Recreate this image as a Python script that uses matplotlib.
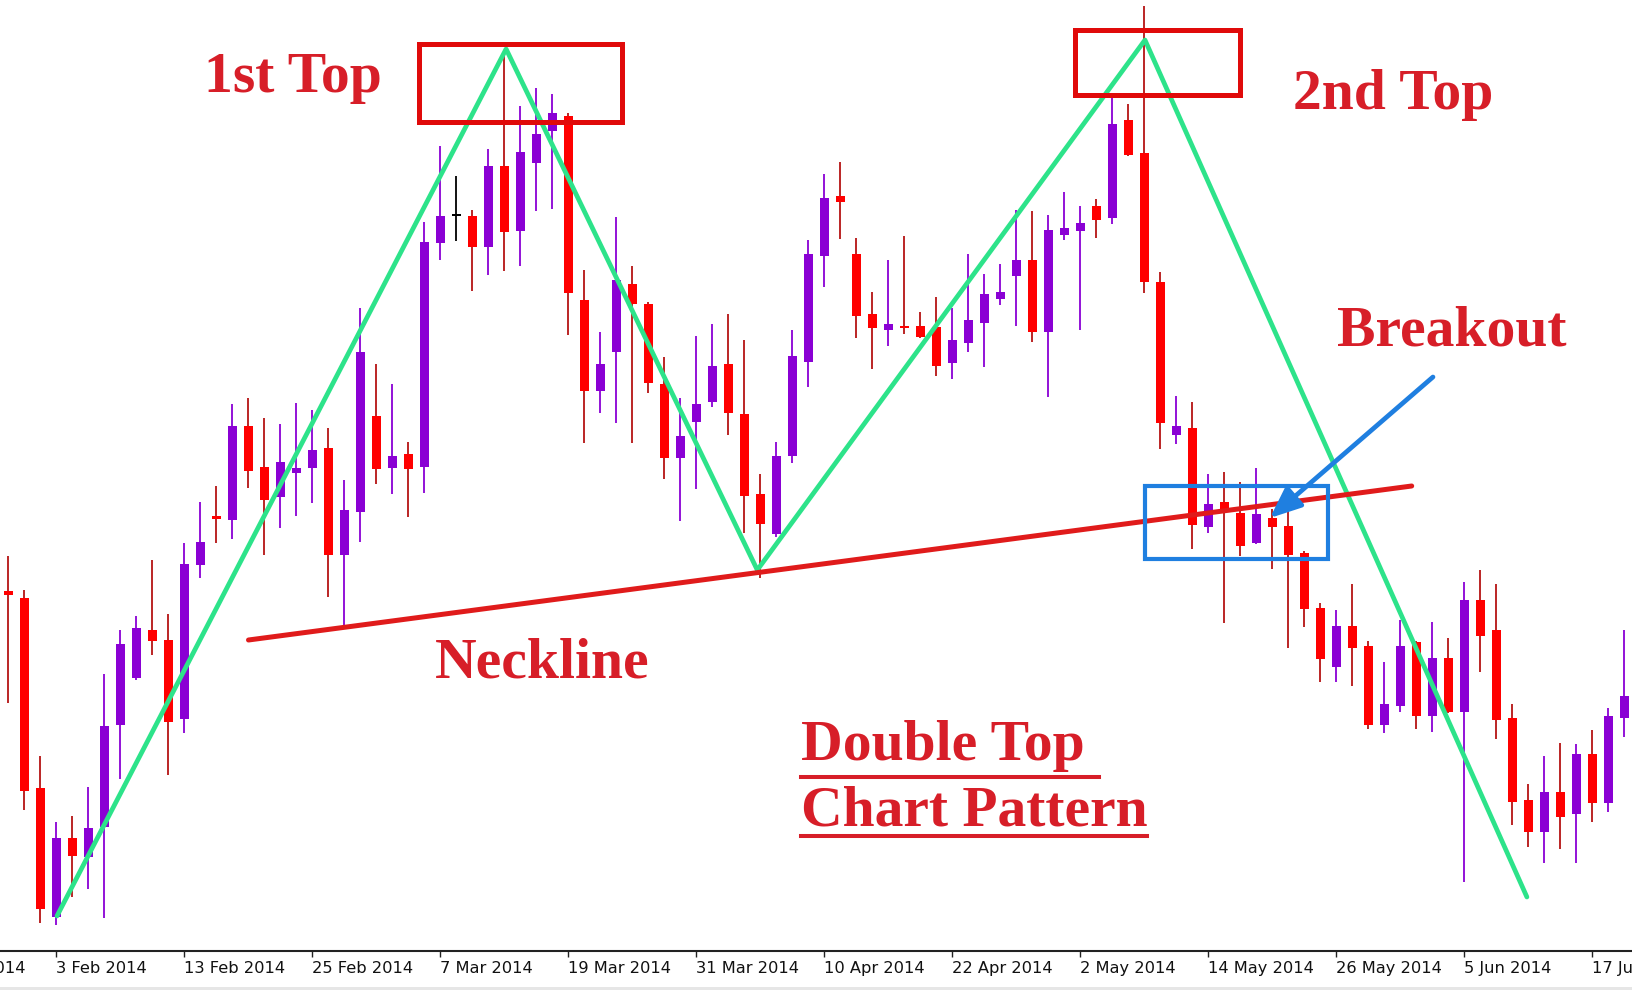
import numpy as np
import matplotlib.pyplot as plt
from matplotlib.patches import Rectangle
from matplotlib.transforms import blended_transform_factory

# EURUSD daily candles, bar index 0 = 3 Feb 2014 (bars -3 .. 98)
bar_idx = np.arange(-3, 99)

opens = [
    1.37045, 1.37010, 1.36060,
    1.35415, 1.35810, 1.35715, 1.35865, 1.36375, 1.36610, 1.36850, 1.36800,
    1.36405, 1.37175, 1.37420, 1.37400, 1.37870, 1.37665, 1.37515, 1.37635,
    1.37660, 1.37760, 1.37225, 1.37440, 1.37920, 1.37660, 1.37730, 1.37665,
    1.38785, 1.38920, 1.38920, 1.38765, 1.39170, 1.38845, 1.39185, 1.39345,
    1.39420, 1.38500, 1.38045, 1.38240, 1.38580, 1.38480, 1.38080, 1.37710,
    1.37890, 1.37990, 1.38180, 1.37930, 1.37530, 1.37330, 1.37720, 1.38190,
    1.38720, 1.39020, 1.38730, 1.38430, 1.38350, 1.38370, 1.38370, 1.38365,
    1.38185, 1.38285, 1.38385, 1.38505, 1.38620, 1.38700, 1.38340, 1.38825,
    1.38845, 1.38970, 1.38910, 1.39400, 1.39235, 1.38590, 1.37825, 1.37860,
    1.37365, 1.37490, 1.37435, 1.37285, 1.37410, 1.37370, 1.37235, 1.36960,
    1.36665, 1.36870, 1.36770, 1.36375, 1.36470, 1.36790, 1.36420, 1.36710,
    1.36440, 1.37000, 1.36850, 1.36410, 1.36000, 1.35840, 1.36040, 1.35930,
    1.36230, 1.35985, 1.36410,
]
highs = [
    1.37220, 1.37050, 1.36220,
    1.35890, 1.35920, 1.36065, 1.36630, 1.36850, 1.36920, 1.37200, 1.36930,
    1.37285, 1.37490, 1.37570, 1.37980, 1.38010, 1.37910, 1.37880, 1.37985,
    1.37950, 1.37860, 1.37600, 1.38460, 1.38180, 1.38080, 1.37790, 1.38890,
    1.39270, 1.39120, 1.38950, 1.39255, 1.39750, 1.39470, 1.39560, 1.39530,
    1.39435, 1.38650, 1.38340, 1.38915, 1.38670, 1.38490, 1.38215, 1.38010,
    1.38320, 1.38380, 1.38430, 1.38300, 1.37630, 1.37790, 1.38350, 1.38800,
    1.39130, 1.39190, 1.38810, 1.38540, 1.38700, 1.38820, 1.38440, 1.38515,
    1.38460, 1.38730, 1.38630, 1.38680, 1.38950, 1.38945, 1.38925, 1.39040,
    1.38970, 1.39005, 1.39525, 1.39480, 1.39970, 1.38640, 1.38020, 1.37990,
    1.37630, 1.37640, 1.37590, 1.37660, 1.37455, 1.37550, 1.37245, 1.36985,
    1.36950, 1.37080, 1.36795, 1.36690, 1.36900, 1.36795, 1.36890, 1.36810,
    1.37090, 1.37150, 1.37080, 1.36480, 1.36080, 1.36220, 1.36285, 1.36280,
    1.36350, 1.36460, 1.36850,
]
lows = [
    1.36485, 1.35950, 1.35385,
    1.35375, 1.35515, 1.35555, 1.35410, 1.36105, 1.36600, 1.36725, 1.36125,
    1.36335, 1.37110, 1.37285, 1.37305, 1.37560, 1.37225, 1.37360, 1.37420,
    1.37485, 1.37015, 1.36870, 1.37290, 1.37580, 1.37530, 1.37415, 1.37535,
    1.38700, 1.38795, 1.38545, 1.38625, 1.38645, 1.38670, 1.38945, 1.38955,
    1.38325, 1.37785, 1.37935, 1.37885, 1.37785, 1.38035, 1.37605, 1.37395,
    1.37555, 1.37965, 1.37825, 1.37335, 1.37110, 1.37315, 1.37685, 1.38065,
    1.38565, 1.38805, 1.38310, 1.38155, 1.38270, 1.38330, 1.38310, 1.38120,
    1.38105, 1.38240, 1.38165, 1.38475, 1.38370, 1.38290, 1.38015, 1.38800,
    1.38350, 1.38810, 1.38880, 1.39220, 1.38535, 1.37755, 1.37780, 1.37255,
    1.37335, 1.36885, 1.37220, 1.37280, 1.37155, 1.36760, 1.36865, 1.36590,
    1.36590, 1.36570, 1.36355, 1.36335, 1.36440, 1.36355, 1.36340, 1.36435,
    1.35590, 1.36640, 1.36305, 1.35875, 1.35765, 1.35685, 1.35755, 1.35685,
    1.35890, 1.35940, 1.36315,
]
closes = [
    1.37025, 1.36045, 1.35455,
    1.35810, 1.35720, 1.35860, 1.36370, 1.36780, 1.36860, 1.36795, 1.36390,
    1.37180, 1.37290, 1.37405, 1.37870, 1.37645, 1.37500, 1.37690, 1.37660,
    1.37750, 1.37225, 1.37450, 1.38240, 1.37655, 1.37720, 1.37655, 1.38790,
    1.38920, 1.38920, 1.38765, 1.39170, 1.38840, 1.39240, 1.39330, 1.39435,
    1.38535, 1.38045, 1.38180, 1.38600, 1.38480, 1.38085, 1.37710, 1.37820,
    1.37980, 1.38170, 1.37935, 1.37520, 1.37380, 1.37720, 1.38220, 1.38730,
    1.39010, 1.38990, 1.38420, 1.38360, 1.38380, 1.38360, 1.38315, 1.38170,
    1.38300, 1.38400, 1.38530, 1.38540, 1.38700, 1.38340, 1.38850, 1.38860,
    1.38885, 1.38900, 1.39380, 1.39225, 1.38590, 1.37885, 1.37870, 1.37375,
    1.37480, 1.37450, 1.37270, 1.37430, 1.37365, 1.37225, 1.36955, 1.36705,
    1.36870, 1.36760, 1.36375, 1.36480, 1.36770, 1.36420, 1.36710, 1.36440,
    1.37000, 1.36820, 1.36400, 1.35990, 1.35840, 1.36040, 1.35915, 1.36230,
    1.35985, 1.36420, 1.36520,
]

tick_idx = [0, 8, 16, 24, 32, 40, 48, 56, 64, 72, 80, 88, 96]
tick_labels = ["3 Feb 2014", "13 Feb 2014", "25 Feb 2014", "7 Mar 2014",
               "19 Mar 2014", "31 Mar 2014", "10 Apr 2014", "22 Apr 2014",
               "2 May 2014", "14 May 2014", "26 May 2014", "5 Jun 2014",
               "17 Jun 2014"]

# pattern annotations (bar index, price)
zigzag_x = [0.03, 28.1, 43.8, 68.03, 91.9]
zigzag_y = [1.35420, 1.39755, 1.37150, 1.39800, 1.35515]
neck_x = [12.0, 84.7]
neck_y = [1.36800, 1.37570]

opens = np.array(opens); closes = np.array(closes)
highs = np.array(highs); lows = np.array(lows)

RED, PURPLE = "#FF0000", "#8A00D4"
body_col, wick_col = [], []
for o, c in zip(opens, closes):
    if c > o:
        body_col.append(PURPLE); wick_col.append(PURPLE)
    elif c < o:
        body_col.append(RED); wick_col.append("#B51414")
    else:
        body_col.append("black"); wick_col.append("black")

fig = plt.figure(figsize=(16.32, 9.9), dpi=100)
ax = fig.add_axes([0, 39.3 / 990, 1, 950.7 / 990])

ax.vlines(bar_idx, lows, highs, colors=wick_col, linewidth=1.3, zorder=2)
bottoms = np.minimum(opens, closes)
heights = np.maximum(np.abs(closes - opens), 0.0001)
ax.bar(bar_idx, heights, width=0.58, bottom=bottoms, color=body_col,
       linewidth=0, zorder=3)

# green zigzag and neckline
ax.plot(zigzag_x, zigzag_y, color="#2DE38A", lw=3.4, zorder=5,
        solid_joinstyle="round", solid_capstyle="round")
ax.plot(neck_x, neck_y, color="#E01B1B", lw=3.6, zorder=6,
        solid_capstyle="round")

# tops and breakout boxes
ax.add_patch(Rectangle((22.66, 1.39390), 12.68, 0.00390, fill=False,
                       ec="#E00A0A", lw=3.6, zorder=7))
ax.add_patch(Rectangle((63.66, 1.39527), 10.31, 0.00323, fill=False,
                       ec="#E00A0A", lw=3.6, zorder=7))
ax.add_patch(Rectangle((68.03, 1.37203), 11.44, 0.00367, fill=False,
                       ec="#1F7FE0", lw=3.0, zorder=7))
ax.annotate("", xy=(75.84, 1.37410), xytext=(86.03, 1.38115),
            arrowprops=dict(arrowstyle="-|>,head_length=0.95,head_width=0.4",
                            color="#1F7FE0", lw=3.4, mutation_scale=20,
                            shrinkA=0, shrinkB=0), zorder=8)

TXT = "#D71E28"
font = dict(family=["Liberation Serif", "DejaVu Serif"], weight="bold",
            size=41.5, color=TXT, ha="left", va="baseline", zorder=9)
ax.text(9.22, 1.39542, "1st Top", **font)
ax.text(77.28, 1.39455, "2nd Top", **font)
ax.text(80.03, 1.38275, "Breakout", **font)
ax.text(23.66, 1.36615, "Neckline", **font)
ax.text(46.53, 1.36200, "Double Top", **font)
ax.text(46.53, 1.35875, "Chart Pattern", **font)
ax.plot([46.53, 65.16], [1.36115, 1.36115], color=TXT, lw=2.9, zorder=9)
ax.plot([46.53, 68.16], [1.35821, 1.35821], color=TXT, lw=2.9, zorder=9)

ax.set_xlim(-3.531, 98.469)
ax.set_ylim(1.352465, 1.4)
ax.set_xticks(tick_idx)
ax.set_xticklabels(tick_labels, ha="left")
ax.tick_params(axis="x", direction="out", length=4.3, width=1.0,
               color="#222222", labelsize=11.7, labelcolor="#111111", pad=3)
ax.set_yticks([])
for s in ["top", "left", "right"]:
    ax.spines[s].set_visible(False)
ax.spines["bottom"].set_linewidth(1.5)
ax.spines["bottom"].set_color("#222222")

# label of the tick that lies just left of the view
trans = blended_transform_factory(ax.transData, ax.transAxes)
ax.text(-8, -10.2 / 950.7, "22 Jan 2014", transform=trans, ha="left",
        va="top", fontsize=11.7, color="#111111", clip_on=False)

fig.add_artist(Rectangle((0, 0), 1, 3 / 990, transform=fig.transFigure,
                         color="#E6E6E6", lw=0))
fig.savefig("out.png", dpi=100, facecolor="white")
